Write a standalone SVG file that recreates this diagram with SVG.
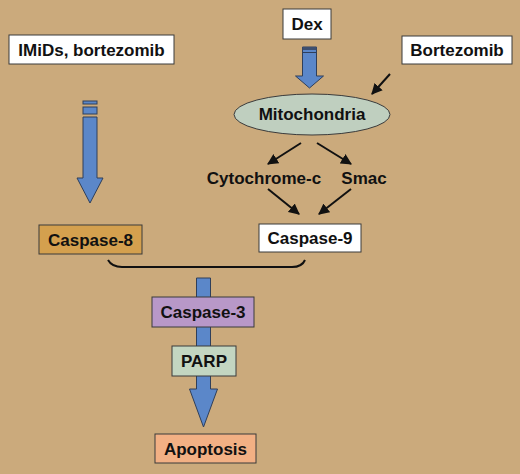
<svg xmlns="http://www.w3.org/2000/svg" width="520" height="474" viewBox="0 0 520 474">
<style>
text{font-family:"Liberation Sans",Arial,sans-serif;font-weight:bold;font-size:17px;fill:#111;text-anchor:middle}
.box{stroke:#3a3a3a;stroke-width:1}
.blue{fill:#5b87c9;stroke:#2f3f5a;stroke-width:1}
.thin{stroke:#111;stroke-width:2;fill:none}
</style>
<defs>
<marker id="ah" viewBox="0 0 10 10" refX="9" refY="5" markerWidth="5.5" markerHeight="5.5" orient="auto-start-reverse"><path d="M0,0 L10,5 L0,10 z" fill="#111"/></marker>
</defs>
<rect width="520" height="474" fill="#cbaa7c"/>
<g id="connectors">
<g id="arrow-imids">
<rect class="blue" x="83" y="101" width="14" height="3"/>
<rect class="blue" x="83" y="107" width="14" height="7"/>
<path class="blue" d="M83,117 H97 V178 H103 L90,203 L77,178 H83 Z"/>
</g>
<g id="arrow-dex">
<path class="blue" d="M302.5,47 H316.5 V76 H323.5 L309.5,88 L295.5,76 H302.5 Z"/>
<rect x="302.5" y="47" width="14" height="3" fill="#3d4f70"/>
<line x1="302.5" y1="52.5" x2="316.5" y2="52.5" stroke="#2f3f5a" stroke-width="1"/>
</g>
<path class="blue" d="M196.5,278 H210.5 V389 H217.5 L203.5,427 L189.5,389 H196.5 Z"/>
<line class="thin" x1="390" y1="74" x2="372" y2="94" marker-end="url(#ah)"/>
<line class="thin" x1="301" y1="143" x2="268" y2="164" marker-end="url(#ah)"/>
<line class="thin" x1="317" y1="143" x2="351" y2="164" marker-end="url(#ah)"/>
<line class="thin" x1="268" y1="189" x2="299" y2="214" marker-end="url(#ah)"/>
<line class="thin" x1="351" y1="189" x2="319" y2="214" marker-end="url(#ah)"/>
<path class="thin" stroke-width="1.5" d="M108,260 Q112,267 122,267 H292 Q302,267 305,260"/>
</g>
<g id="imids"><rect class="box" x="9" y="35" width="165" height="29" fill="#fff"/><text x="91.5" y="56">IMiDs, bortezomib</text></g>
<g id="dex"><rect class="box" x="283" y="9" width="48" height="30" fill="#fff"/><text x="307" y="30">Dex</text></g>
<g id="bortezomib"><rect class="box" x="402" y="36" width="110" height="28" fill="#fff"/><text x="457" y="56">Bortezomib</text></g>
<g id="mitochondria"><ellipse cx="312" cy="114.5" rx="78" ry="20.5" fill="#bfcfbf" stroke="#3a3a3a" stroke-width="1"/><text x="312" y="120">Mitochondria</text></g>
<g id="cytochrome"><text x="264" y="184">Cytochrome-c</text></g>
<g id="smac"><text x="364" y="184">Smac</text></g>
<g id="caspase8"><rect class="box" x="39" y="225" width="103" height="29" fill="#d4a04e"/><text x="90.5" y="246">Caspase-8</text></g>
<g id="caspase9"><rect class="box" x="259" y="224" width="102" height="28" fill="#fff"/><text x="310" y="244">Caspase-9</text></g>
<g id="caspase3"><rect class="box" x="152" y="297" width="102" height="30" fill="#b898c8"/><text x="203" y="318">Caspase-3</text></g>
<g id="parp"><rect class="box" x="172" y="346" width="64" height="30" fill="#c3d6c1"/><text x="204" y="367">PARP</text></g>
<g id="apoptosis"><rect class="box" x="155" y="434" width="101" height="29" fill="#f2b084"/><text x="205.5" y="455">Apoptosis</text></g>
</svg>
